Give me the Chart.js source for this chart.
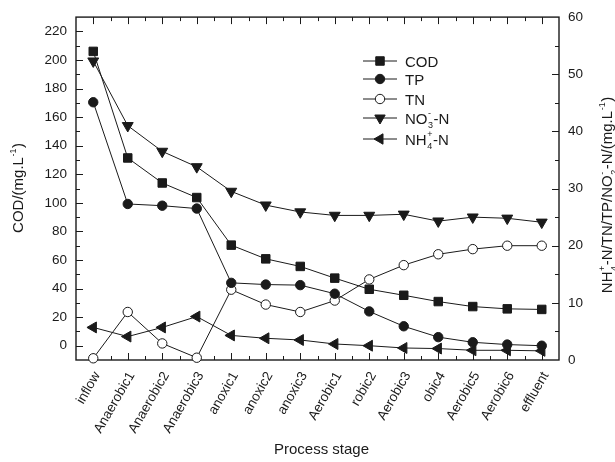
<!DOCTYPE html>
<html lang="en">
<head>
<meta charset="UTF-8" />
<title>Process stage</title>
<script src="https://cdn.jsdelivr.net/npm/chart.js@4"></script>
<style>
  html, body { margin: 0; background: #fff; }
  #wrap { width: 615px; height: 462px; }
</style>
</head>
<body>
<div id="wrap"><canvas id="stageChart" width="615" height="462"></canvas></div>
<script>
  // values
  const stages = ["inflow", "Anaerobic1", "Anaerobic2", "Anaerobic3", "anoxic1", "anoxic2", "anoxic3",
    "Aerobic1", "robic2", "Aerobic3", "obic4", "Aerobic5", "Aerobic6", "effluent"];
  const cod = [206, 131.4, 113.9, 103.7, 70.4, 60.8, 55.5, 47.3, 39.5, 35.3, 30.9, 27.4, 25.8, 25.4];
  const tp = [45.1, 27.3, 27.0, 26.5, 13.5, 13.2, 13.1, 11.6, 8.5, 5.9, 4.0, 3.1, 2.7, 2.5];
  const tn = [0.3, 8.4, 2.9, 0.4, 12.3, 9.7, 8.4, 10.4, 14.1, 16.6, 18.5, 19.4, 20.0, 20.0];
  const no3 = [52.3, 41.0, 36.5, 33.8, 29.5, 27.1, 25.9, 25.3, 25.3, 25.5, 24.3, 25.0, 24.8, 24.1];
  const nh4 = [5.7, 4.1, 5.7, 7.6, 4.3, 3.8, 3.5, 2.8, 2.5, 2.1, 2.0, 1.7, 1.7, 1.6];
  const leftTicks = [0, 20, 40, 60, 80, 100, 120, 140, 160, 180, 200, 220];
  const rightTicks = [0, 10, 20, 30, 40, 50, 60];

  const FONT = "'Liberation Sans', Arial, sans-serif";
  const INK = "#1a1a1a";

  // text with super/subscripts: parts are strings or {sup, sub}
  function richWidth(ctx, parts, size) {
    let w = 0;
    parts.forEach((p) => {
      if (typeof p === "string") {
        ctx.font = size + "px " + FONT;
        w += ctx.measureText(p).width;
      } else {
        ctx.font = Math.round(size * 0.62) + "px " + FONT;
        w += Math.max(ctx.measureText(p.sup || "").width, ctx.measureText(p.sub || "").width) + 1;
      }
    });
    return w;
  }
  function drawRich(ctx, parts, x, y, size) {
    ctx.textBaseline = "alphabetic";
    ctx.textAlign = "left";
    parts.forEach((p) => {
      if (typeof p === "string") {
        ctx.font = size + "px " + FONT;
        ctx.fillText(p, x, y);
        x += ctx.measureText(p).width;
      } else {
        const s = Math.round(size * 0.62);
        ctx.font = s + "px " + FONT;
        if (p.sup) ctx.fillText(p.sup, x + 0.5, y - size * 0.5);
        if (p.sub) ctx.fillText(p.sub, x + 0.5, y + size * 0.3);
        x += Math.max(ctx.measureText(p.sup || "").width, ctx.measureText(p.sub || "").width) + 1;
      }
    });
  }

  const legendItems = [
    { parts: ["COD"], style: "rect", r: 6, fill: INK, rot: 0 },
    { parts: ["TP"], style: "circle", r: 4.7, fill: INK, rot: 0 },
    { parts: ["TN"], style: "circle", r: 4.7, fill: "#fff", rot: 0 },
    { parts: ["NO", { sup: "-", sub: "3" }, "-N"], style: "triangle", r: 6, fill: INK, rot: 180 },
    { parts: ["NH", { sup: "+", sub: "4" }, "-N"], style: "triangle", r: 6, fill: INK, rot: -90 },
  ];
  const legendRows = [61, 79, 99, 118, 139];

  const framePlugin = {
    id: "frame",
    beforeDatasetsDraw(chart) {
      const { ctx, chartArea: a, scales } = chart;
      ctx.save();
      ctx.strokeStyle = INK;
      ctx.lineWidth = 1.4;
      ctx.strokeRect(a.left, a.top, a.right - a.left, a.bottom - a.top);
      ctx.lineWidth = 1;
      ctx.beginPath();
      // left axis ticks (inward)
      for (let v = 0; v <= 220; v += 10) {
        const y = Math.round(scales.yL.getPixelForValue(v)) + 0.5;
        const len = v % 20 === 0 ? 7 : 4;
        ctx.moveTo(a.left, y); ctx.lineTo(a.left + len, y);
      }
      // right axis ticks
      for (let v = 5; v < 60; v += 5) {
        const y = Math.round(scales.yR.getPixelForValue(v)) + 0.5;
        const len = v % 10 === 0 ? 7 : 4;
        ctx.moveTo(a.right, y); ctx.lineTo(a.right - len, y);
      }
      // bottom & top ticks
      stages.forEach((s, i) => {
        const x = Math.round(scales.x.getPixelForValue(i)) + 0.5;
        ctx.moveTo(x, a.bottom); ctx.lineTo(x, a.bottom - 7);
        ctx.moveTo(x, a.top); ctx.lineTo(x, a.top + 7);
        if (i > 0) {
          const xm = Math.round((scales.x.getPixelForValue(i) + scales.x.getPixelForValue(i - 1)) / 2) + 0.5;
          ctx.moveTo(xm, a.bottom); ctx.lineTo(xm, a.bottom - 4);
          ctx.moveTo(xm, a.top); ctx.lineTo(xm, a.top + 4);
        }
      });
      ctx.stroke();
      ctx.restore();
    },
    afterDraw(chart) {
      const { ctx, chartArea: a } = chart;
      ctx.save();
      ctx.fillStyle = INK;
      // legend
      legendItems.forEach((it, k) => {
        const y = legendRows[k];
        ctx.strokeStyle = INK;
        ctx.lineWidth = 1;
        ctx.beginPath();
        ctx.moveTo(363, y); ctx.lineTo(397, y);
        ctx.stroke();
        ctx.fillStyle = it.fill;
        Chart.helpers.drawPoint(ctx, { pointStyle: it.style, radius: it.r, rotation: it.rot, borderWidth: 1 }, 380, y);
        ctx.fillStyle = INK;
        drawRich(ctx, it.parts, 405, y + 5.5, 15);
      });
      // axis titles
      const lt = ["COD/(mg.L", { sup: "-1" }, ")"];
      ctx.save();
      ctx.translate(23, 188);
      ctx.rotate(-Math.PI / 2);
      drawRich(ctx, lt, -richWidth(ctx, lt, 15) / 2, 0, 15);
      ctx.restore();
      const rt = ["NH", { sup: "+", sub: "4" }, "-N/TN/TP/NO", { sup: "-", sub: "2" }, "-N/(mg.L", { sup: "-1" }, ")"];
      ctx.save();
      ctx.translate(612, 195);
      ctx.rotate(-Math.PI / 2);
      drawRich(ctx, rt, -richWidth(ctx, rt, 15) / 2, 0, 15);
      ctx.restore();
      ctx.font = "15px " + FONT;
      ctx.textAlign = "center";
      ctx.textBaseline = "middle";
      ctx.fillText("Process stage", (a.left + a.right) / 2 + 4, 450);
      ctx.restore();
    },
  };

  function series(label, data, axis, style, r, fill, rot) {
    return {
      label: label,
      data: data,
      yAxisID: axis,
      borderColor: INK,
      borderWidth: 1,
      backgroundColor: fill,
      pointStyle: style,
      pointRadius: r,
      pointHoverRadius: r,
      pointRotation: rot,
      pointBackgroundColor: fill,
      pointBorderColor: INK,
      pointBorderWidth: 1,
      tension: 0,
      clip: false,
    };
  }

  const tickFont = { family: FONT, size: 13.5 };

  new Chart(document.getElementById("stageChart"), {
    type: "line",
    data: {
      labels: stages,
      datasets: [
        series("COD", cod, "yL", "rect", 6, INK, 0),
        series("TP", tp, "yR", "circle", 4.7, INK, 0),
        series("TN", tn, "yR", "circle", 4.7, "#fff", 0),
        series("NO3-N", no3, "yR", "triangle", 6.3, INK, 180),
        series("NH4-N", nh4, "yR", "triangle", 6.3, INK, -90),
      ],
    },
    options: {
      responsive: false,
      animation: false,
      devicePixelRatio: 1,
      layout: { padding: { top: 13, left: 0, right: 0, bottom: 0 } },
      plugins: { legend: { display: false }, tooltip: { enabled: false } },
      scales: {
        x: {
          offset: true,
          grid: { display: false, drawTicks: false },
          border: { display: false },
          ticks: { color: INK, font: tickFont, maxRotation: 60, minRotation: 60, padding: 9, labelOffset: 4, autoSkip: false },
          afterFit(s) { s.height = 102; },
        },
        yL: {
          position: "left",
          min: -10,
          max: 230,
          grid: { display: false, drawTicks: false },
          border: { display: false },
          ticks: { color: INK, font: tickFont, padding: 9 },
          afterBuildTicks(s) { s.ticks = leftTicks.map((v) => ({ value: v })); },
          afterFit(s) { s.width = 76; },
        },
        yR: {
          position: "right",
          min: 0,
          max: 60,
          grid: { display: false, drawTicks: false },
          border: { display: false },
          ticks: { color: INK, font: tickFont, padding: 9 },
          afterBuildTicks(s) { s.ticks = rightTicks.map((v) => ({ value: v })); },
          afterFit(s) { s.width = 56; },
        },
      },
    },
    plugins: [framePlugin],
  });
</script>
</body>
</html>
